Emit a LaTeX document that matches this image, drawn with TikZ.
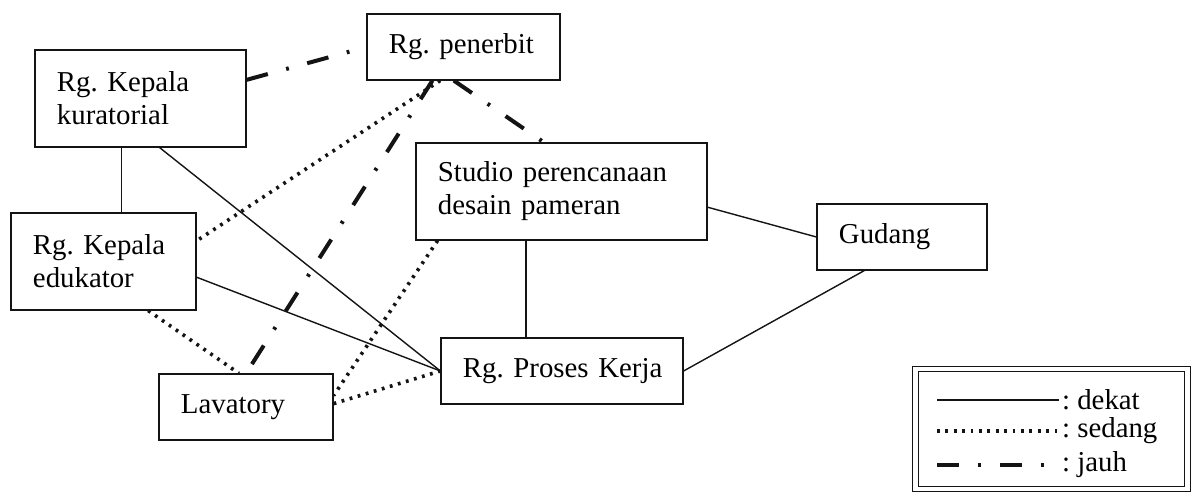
\documentclass[tikz,border=0pt]{standalone}
\usepackage{fontspec}
\setmainfont{Liberation Serif}
\usepackage{xcolor}
\usepackage{tikz}
\usetikzlibrary{calc}
\definecolor{inkblack}{HTML}{141414}
\frenchspacing
\hyphenpenalty=10000
\exhyphenpenalty=10000
\tikzset{
    roombox/.style={
        draw=inkblack,
        line width=0.8pt,
        align=left,
        inner xsep=0.55cm,
        inner ysep=2pt,
        font=\fontsize{20.5}{23.5}\selectfont
    },
    tallroom/.style={roombox, minimum height=2.425cm},
    flatroom/.style={roombox, minimum height=1.65cm},
    nearlink/.style={draw=inkblack, line width=1pt},
    midlink/.style={draw=inkblack, line width=0.09cm, dash pattern=on 0.07cm off 0.14cm},
    farlink/.style={draw=inkblack, line width=0.1cm, dash pattern=on 0.55cm off 0.475cm on 0.07cm off 0.475cm},
    legendframe/.style={draw=inkblack, line width=0.7pt, double, double distance=3pt, minimum width=6.8cm, minimum height=3cm, inner sep=0pt},
    legendtext/.style={anchor=west, inner xsep=2pt, font=\fontsize{20.5}{23.5}\selectfont}
}
\begin{document}
\begin{tikzpicture}[x=0.025cm, y=-0.025cm]
    \useasboundingbox (0,0) rectangle (1192,492);

    \node[tallroom, text width=4.175cm] (kuratorial) at (140.5,98.5) {Rg.~Kepala\\kuratorial};
    \node[flatroom, text width=3.725cm] (penerbit) at (463.5,47) {Rg.~penerbit};
    \node[tallroom, text width=6.175cm] (studio) at (561.5,191.5) {Studio~perencanaan\\desain pameran};
    \node[flatroom, text width=3.15cm] (gudang) at (902,237) {Gudang};
    \node[tallroom, text width=3.525cm] (edukator) at (103.5,261.5) {Rg.~Kepala\\edukator};
    \node[flatroom, text width=3.25cm] (lavatory) at (246,407) {Lavatory};
    \node[flatroom, text width=4.95cm] (proses) at (562,371) {Rg.~Proses~Kerja};

    \coordinate (kurfoot) at ($(kuratorial.south west)!0.41!(kuratorial.south east)$);
    \coordinate (studiofoot) at ($(studio.south west)!0.378!(studio.south east)$);

    \draw[nearlink] (kurfoot) -- (kurfoot |- edukator.north);
    \draw[nearlink] ($(kuratorial.south west)!0.59!(kuratorial.south east)$) -- (proses.west);
    \draw[nearlink] ($(edukator.north east)!0.66!(edukator.south east)$) -- (proses.west);
    \draw[nearlink] (studiofoot) -- (studiofoot |- proses.north);
    \draw[nearlink] ($(studio.north east)!0.66!(studio.south east)$) -- (gudang.west);
    \draw[nearlink] ($(gudang.south west)!0.28!(gudang.south east)$) -- (proses.east);

    \draw[midlink] ($(penerbit.south west)!0.38!(penerbit.south east)$) -- ($(edukator.north east)!0.29!(edukator.south east)$);
    \draw[midlink] ($(edukator.south west)!0.74!(edukator.south east)$) -- ($(lavatory.north west)!0.46!(lavatory.north east)$);
    \draw[midlink] ($(studio.south west)!0.076!(studio.south east)$) -- ($(lavatory.north east)!0.33!(lavatory.south east)$);
    \draw[midlink] ($(lavatory.north east)!0.45!(lavatory.south east)$) -- (proses.west);

    \draw[farlink] ($(kuratorial.north east)!0.31!(kuratorial.south east)$) -- (penerbit.west);
    \draw[farlink] ($(penerbit.south west)!0.45!(penerbit.south east)$) -- ($(studio.north west)!0.44!(studio.north east)$);
    \draw[farlink] ($(penerbit.south west)!0.34!(penerbit.south east)$) -- (lavatory.north);

    \node[legendframe] (legend) at (1051.5,429) {};
    \node[legendtext] (keydekat) at (1059,400) {: dekat};
    \node[legendtext] (keysedang) at (1059,431) {: sedang};
    \node[legendtext] (keyjauh) at (1059,465) {: jauh};
    \coordinate (dekatstart) at (937,400);
    \coordinate (sedangstart) at (937,431);
    \coordinate (jauhstart) at (937,465);
    \draw[nearlink] (dekatstart) -- (keydekat.west);
    \draw[midlink] (sedangstart) -- (keysedang.west);
    \draw[farlink] (jauhstart) -- (keyjauh.west);
\end{tikzpicture}
\end{document}
